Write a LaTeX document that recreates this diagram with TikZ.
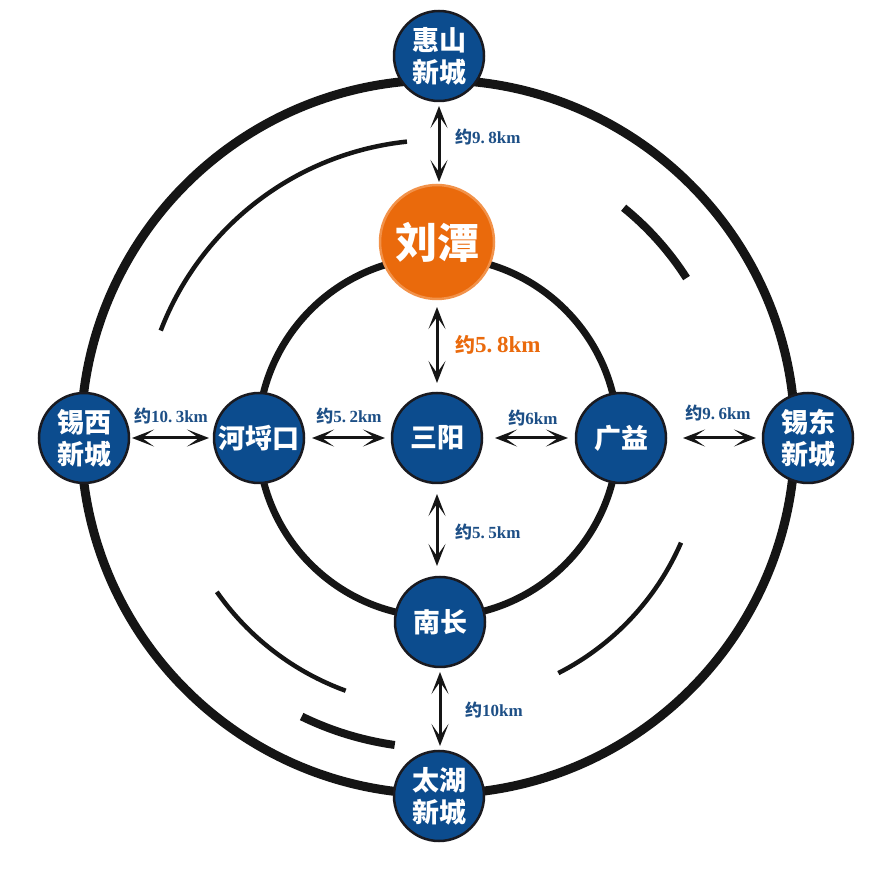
\documentclass[tikz,border=0pt]{standalone}
\usepackage{fontspec}
\setmainfont{Liberation Serif}
\newfontfamily\cjk{Noto Sans CJK SC}
\usetikzlibrary{arrows.meta,calc}
\definecolor{nodeblue}{HTML}{0C4C8E}
\definecolor{nodeedge}{HTML}{1A1A20}
\definecolor{lblblue}{HTML}{1D4F86}
\definecolor{orfill}{HTML}{EA6A0C}
\definecolor{oredge}{HTML}{F2924A}
\definecolor{ringcol}{HTML}{151515}
\newcommand\yue{{\cjk\bfseries 约}}
\newcommand\fdot{.\hspace{0.2em}}
\begin{document}
\begin{tikzpicture}[x=1pt,y=1pt,
  town/.style={circle,fill=nodeblue,draw=nodeedge,line width=2.5pt,minimum size=90pt,inner sep=0pt,outer sep=0pt,
    text=white,font=\cjk\bfseries\fontsize{27}{32}\selectfont,align=center},
  hub/.style={circle,fill=orfill,draw=oredge,line width=2.5pt,minimum size=114pt,inner sep=0pt,outer sep=0pt,
    text=white,font=\cjk\bfseries\fontsize{42}{46}\selectfont},
  dist/.style={text=lblblue,font=\bfseries\fontsize{17}{19}\selectfont,inner sep=0pt},
  link/.style={line width=3pt,draw=ringcol,{Stealth[length=22pt,width=17pt,inset=12pt]}-{Stealth[length=22pt,width=17pt,inset=12pt]}},
  ring/.style={draw=ringcol}
]
\useasboundingbox[fill=white] (0,0) rectangle (876,876);
\coordinate (C) at (438,439);
% circles
\draw[ring,line width=9pt] (C) circle[radius=357pt];
\draw[ring,line width=7pt] (C) circle[radius=180pt];
% arcs
\draw[ring,line width=4.5pt] ([shift={(C)}]96:297pt) arc[start angle=96,end angle=159,radius=297pt];
\draw[ring,line width=8pt] ([shift={(C)}]32.6:295pt) arc[start angle=32.6,end angle=51,radius=295pt];
\draw[ring,line width=4.5pt] ([shift={(C)}]-63:265pt) arc[start angle=-63,end angle=-23.5,radius=265pt];
\draw[ring,line width=4.5pt] ([shift={(C)}]215:270pt) arc[start angle=215,end angle=250,radius=270pt];
\draw[ring,line width=8pt] ([shift={(C)}]244:311pt) arc[start angle=244,end angle=262,radius=311pt];
% nodes
\node[town] (hs) at (439,820) {惠山\\新城};
\node[hub] (lt) at (437,634) {刘潭};
\node[town] (sy) at (437,438) {三阳};
\node[town] (hlk) at (259,438) {河埒口};
\node[town] (gy) at (621,438) {广益};
\node[town] (xx) at (84,438) {锡西\\新城};
\node[town] (xd) at (808,438) {锡东\\新城};
\node[town] (nc) at (440,254) {南长};
\node[town] (th) at (439,80) {太湖\\新城};
% arrows
\draw[link,shorten <=5pt,shorten >=3pt] (hs.south) -- (hs.south |- lt.north);
\draw[link,shorten <=8pt,shorten >=10pt] (lt.south) -- (lt.south |- sy.north);
\draw[link,shorten <=11pt,shorten >=11pt] (sy.south) -- (sy.south |- nc.north);
\draw[link,shorten <=5pt,shorten >=5pt] (nc.south) -- (nc.south |- th.north);
\draw[link,shorten <=3pt,shorten >=5pt] (xx.east) -- (hlk.west);
\draw[link,shorten <=8pt,shorten >=7pt] (hlk.east) -- (sy.west);
\draw[link,shorten <=13pt,shorten >=8pt] (sy.east) -- (gy.west);
\draw[link,shorten <=17pt,shorten >=7pt] (gy.east) -- (xd.west);
% labels
\node[dist,anchor=west] (l1) at (455,739) {\yue 9\fdot 8km};
\node[dist,anchor=west,text=orfill,font=\bfseries\fontsize{23}{25}\selectfont] (l2) at (455,531) {{\fontsize{20}{22}\selectfont\yue}5\fdot 8km};
\node[dist] (l3) at (171,460) {\yue 10\fdot 3km};
\node[dist] (l4) at (349,460) {\yue 5\fdot 2km};
\node[dist] (l5) at (533,458) {\yue 6km};
\node[dist] (l6) at (718,463) {\yue 9\fdot 6km};
\node[dist,anchor=west] (l7) at (455,344) {\yue 5\fdot 5km};
\node[dist,anchor=west] (l8) at (465,166) {\yue 10km};
\end{tikzpicture}
\end{document}
